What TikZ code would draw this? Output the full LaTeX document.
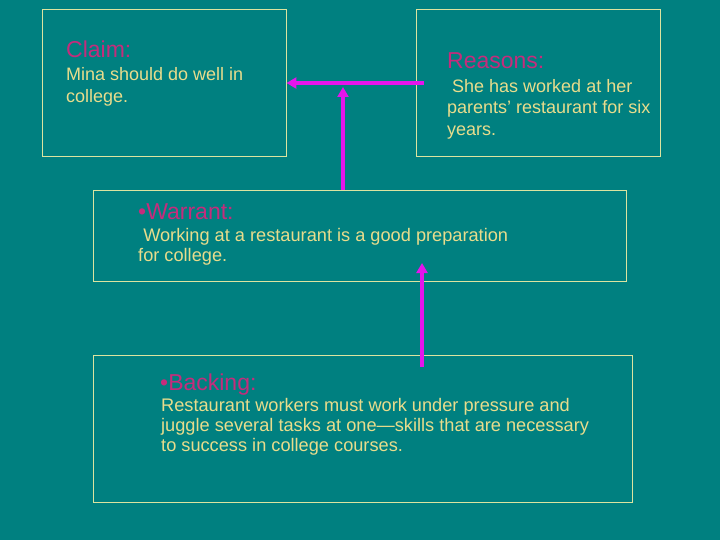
\documentclass[tikz,border=0pt]{standalone}
\usepackage{fontspec}
\setmainfont{Liberation Sans}
\usetikzlibrary{arrows.meta}
\definecolor{bgteal}{RGB}{0,128,128}
\definecolor{boxline}{RGB}{220,228,160}
\definecolor{bodytxt}{RGB}{232,220,140}
\definecolor{headtxt}{RGB}{196,44,124}
\definecolor{arrowc}{RGB}{228,20,235}
\tikzset{
  panel/.style={draw=boxline, line width=0.9pt, rectangle, inner sep=0pt},
  headtext/.style={anchor=base west, inner sep=0pt, text=headtxt, font=\fontsize{23}{26}\selectfont},
  bodytext/.style={anchor=base west, inner sep=0pt, text=bodytxt, align=left, font=\fontsize{18}{21.5}\selectfont},
  bodysmall/.style={bodytext, font=\fontsize{18.2}{19.6}\selectfont},
  link/.style={draw=arrowc, line width=3.6pt, -{Triangle[length=10pt,width=11pt]}}
}
\begin{document}
\begin{tikzpicture}[x=1pt,y=-1pt]
\fill[bgteal] (0,0) rectangle (720,540);
\useasboundingbox (0,0) rectangle (720,540);
% panels
\node[panel, minimum width=244pt, minimum height=147pt] (claim) at (164,82.5) {};
\node[panel, minimum width=244pt, minimum height=147pt] (reasons) at (538,82.5) {};
\node[panel, minimum width=533pt, minimum height=91pt] (warrant) at (359.5,235.5) {};
\node[panel, minimum width=539pt, minimum height=147pt] (backing) at (362.5,428.5) {};
% texts (body nodes: anchor at baseline of last line)
\node[headtext] (claimh) at (66,58) {Claim:};
\node[bodytext] (claimb) at (66,102.5) {Mina should do well in\\college.};
\node[headtext] (reash) at (447,68.5) {Reasons:};
\node[bodytext] (reasb) at (447,135.5) {\ She has worked at her\\parents’ restaurant for six\\years.};
\node[headtext] (warh) at (138,220) {•Warrant:};
\node[bodysmall] (warb) at (138,261) {\ Working at a restaurant is a good preparation\\for college.};
\node[headtext] (backh) at (160,390.7) {•Backing:};
\node[bodysmall] (backb) at (161,451) {Restaurant workers must work under pressure and\\juggle several tasks at one—skills that are necessary\\to success in college courses.};
% connectors
\coordinate (hstart) at (424,83);
\draw[link] (hstart) -- (claim.east |- hstart);
\coordinate (wtop) at (343,190);
\coordinate (wend) at (343,87);
\draw[link] (wtop) -- (wend);
\coordinate (bstart) at (422,367);
\coordinate (bend) at (422,263);
\draw[link] (bstart) -- (bend);
\end{tikzpicture}
\end{document}
